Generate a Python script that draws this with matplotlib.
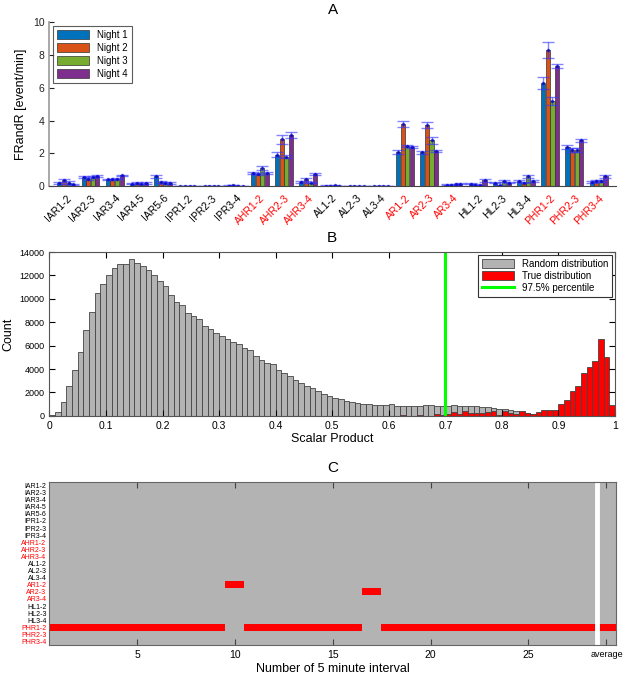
import numpy as np
import matplotlib
matplotlib.use('Agg')
import matplotlib.pyplot as plt
from matplotlib.colors import ListedColormap

plt.rcParams['font.family'] = ['Liberation Sans', 'DejaVu Sans']

# ---- panel A data ----
pairs = ['IAR1-2', 'IAR2-3', 'IAR3-4', 'IAR4-5', 'IAR5-6', 'IPR1-2', 'IPR2-3', 'IPR3-4',
         'AHR1-2', 'AHR2-3', 'AHR3-4', 'AL1-2', 'AL2-3', 'AL3-4', 'AR1-2', 'AR2-3', 'AR3-4',
         'HL1-2', 'HL2-3', 'HL3-4', 'PHR1-2', 'PHR2-3', 'PHR3-4']
red_pairs = ['AHR1-2', 'AHR2-3', 'AHR3-4', 'AR1-2', 'AR2-3', 'AR3-4', 'PHR1-2', 'PHR2-3', 'PHR3-4']

night1 = [0.20, 0.55, 0.40, 0.15, 0.60, 0.01, 0.01, 0.03, 0.80, 1.90, 0.25, 0.02, 0.00, 0.01,
          2.10, 2.05, 0.08, 0.15, 0.20, 0.30, 6.30, 2.40, 0.25]
night2 = [0.35, 0.45, 0.40, 0.20, 0.25, 0.00, 0.01, 0.05, 0.75, 2.85, 0.40, 0.01, 0.00, 0.00,
          3.80, 3.73, 0.05, 0.08, 0.05, 0.20, 8.30, 2.20, 0.30]
night3 = [0.20, 0.55, 0.45, 0.15, 0.20, 0.00, 0.00, 0.02, 1.10, 1.80, 0.20, 0.05, 0.00, 0.00,
          2.45, 2.78, 0.10, 0.05, 0.30, 0.60, 5.20, 2.20, 0.30]
night4 = [0.10, 0.60, 0.65, 0.20, 0.20, 0.00, 0.00, 0.01, 0.80, 3.10, 0.75, 0.00, 0.00, 0.00,
          2.40, 2.15, 0.15, 0.35, 0.20, 0.30, 7.30, 2.78, 0.60]
err1 = [0.05, 0.05, 0.05, 0.05, 0.10, 0.01, 0.01, 0.01, 0.08, 0.15, 0.05, 0.02, 0.01, 0.01,
        0.12, 0.10, 0.03, 0.04, 0.04, 0.04, 0.35, 0.12, 0.05]
err2 = [0.08, 0.10, 0.05, 0.05, 0.05, 0.01, 0.01, 0.01, 0.05, 0.28, 0.08, 0.02, 0.01, 0.01,
        0.20, 0.20, 0.03, 0.03, 0.02, 0.03, 0.50, 0.10, 0.06]
err3 = [0.08, 0.05, 0.05, 0.05, 0.05, 0.01, 0.01, 0.01, 0.12, 0.08, 0.04, 0.02, 0.01, 0.01,
        0.06, 0.20, 0.03, 0.02, 0.06, 0.10, 0.25, 0.10, 0.05]
err4 = [0.04, 0.05, 0.05, 0.05, 0.05, 0.01, 0.01, 0.01, 0.05, 0.18, 0.05, 0.02, 0.01, 0.01,
        0.05, 0.07, 0.03, 0.08, 0.04, 0.06, 0.12, 0.08, 0.08]
night_labels = ['Night 1', 'Night 2', 'Night 3', 'Night 4']
night_colors = ['#0072BD', '#D95319', '#77AC30', '#7E2F8E']

# ---- panel B data (bins of 0.01 from 0 to 1) ----
random_counts = [60, 300, 1200, 2550, 3950, 5450, 7300, 8900, 10500, 11300,
                 12000, 12650, 13000, 13000, 13400, 13100, 12800, 12500, 12000, 11550,
                 11100, 10350, 9750, 9500, 8750, 8500, 8250, 7700, 7400, 7100,
                 6800, 6550, 6300, 6100, 5800, 5600, 5100, 4750, 4550, 4400,
                 3900, 3700, 3400, 3100, 2850, 2550, 2350, 2100, 1870, 1700,
                 1500, 1400, 1280, 1160, 1080, 1020, 1000, 960, 940, 910,
                 1000, 880, 870, 860, 850, 850, 890, 890, 880, 870,
                 870, 900, 880, 880, 850, 800, 780, 750, 700, 620,
                 550, 480, 420, 340, 250, 180, 120, 80, 50, 30,
                 10, 8, 5, 3, 2, 1, 1, 0, 0, 0]
true_counts = [0] * 62 + [80, 0, 0, 80, 0, 0, 150, 100,
                          150, 300, 150, 430, 230, 230, 230, 370, 430, 90,
                          430, 230, 120, 430, 280, 170, 310, 510, 510, 510,
                          1050, 1360, 2100, 2560, 3640, 4200, 4700, 6600, 5050, 940]
percentile_975 = 0.7

# ---- panel C data ----
n_intervals = 28
sig_intervals = {
    'AR1-2': [10],
    'AR2-3': [17],
    'PHR1-2': [1, 2, 3, 4, 5, 6, 7, 8, 9, 11, 12, 13, 14, 15, 16,
               18, 19, 20, 21, 22, 23, 24, 25, 26, 27, 28],
}
sig_average = ['PHR1-2']

fig = plt.figure(figsize=(6.25, 6.74), dpi=100)

# ---------------- A ----------------
axA = fig.add_axes([0.079, 0.724, 0.907, 0.243])
x = np.arange(1, len(pairs) + 1)
w = 0.17
offsets = [-0.285, -0.095, 0.095, 0.285]
for vals, errs, lab, col, off in zip([night1, night2, night3, night4], [err1, err2, err3, err4],
                                     night_labels, night_colors, offsets):
    axA.bar(x + off, vals, w, color=col, edgecolor='#333333', linewidth=0.5, label=lab)
    axA.errorbar(x + off, vals, yerr=errs, fmt='.', color='#0000CC', markersize=3,
                 ecolor='#3333FF', elinewidth=1, capsize=4, alpha=0.6)
axA.set_xlim(0.3, 23.73)
axA.set_ylim(0, 10)
axA.set_yticks([0, 2, 4, 6, 8, 10])
axA.set_xticks(x)
axA.set_xticklabels(pairs, rotation=45, ha='right', rotation_mode='anchor', fontsize=7.5)
for t in axA.get_xticklabels():
    if t.get_text() in red_pairs:
        t.set_color('red')
axA.tick_params(axis='x', length=0, pad=5)
axA.tick_params(axis='y', direction='in', labelsize=7.5, colors='#222222')
axA.spines['top'].set_visible(False)
axA.spines['right'].set_visible(False)
axA.spines['left'].set_color('#999999')
axA.spines['left'].set_linewidth(1.2)
axA.spines['bottom'].set_color('#444444')
axA.set_ylabel('FRandR [event/min]', fontsize=9)
axA.set_title('A', fontsize=11, pad=6)
barsA, labsA = axA.get_legend_handles_labels()
legA = axA.legend(barsA[:4], labsA[:4], loc='upper left', fontsize=7, handlelength=3.3,
                  handleheight=1.0, fancybox=False, edgecolor='#333333', borderaxespad=0.4,
                  labelspacing=0.3)
legA.get_frame().set_linewidth(0.8)

# ---------------- B ----------------
axB = fig.add_axes([0.079, 0.383, 0.905, 0.243])
edges = np.linspace(0, 1, 101)[:-1]
hr = axB.bar(edges, random_counts, 0.01, align='edge', color='#B3B3B3', edgecolor='#444444',
             linewidth=0.6, label='Random distribution')
ht = axB.bar(edges, true_counts, 0.01, align='edge', color='#FF0000', edgecolor='#444444',
             linewidth=0.6, label='True distribution')
hp = axB.axvline(percentile_975, color='#00FF00', linewidth=2.2, label='97.5% percentile')
axB.set_xlim(0, 1)
axB.set_ylim(0, 14000)
axB.set_xticks(np.arange(0, 1.01, 0.1))
axB.set_xticklabels(['0', '0.1', '0.2', '0.3', '0.4', '0.5', '0.6', '0.7', '0.8', '0.9', '1'])
axB.set_yticks(np.arange(0, 14001, 2000))
axB.tick_params(axis='x', direction='in', top=True, labelsize=7.5, length=4)
axB.tick_params(axis='y', direction='in', right=True, labelsize=6.5, length=4)
for s in axB.spines.values():
    s.set_color('#555555')
axB.set_xlabel('Scalar Product', fontsize=9, labelpad=2)
axB.set_ylabel('Count', fontsize=9)
axB.set_title('B', fontsize=11, pad=7)
legB = axB.legend([hr, ht, hp], ['Random distribution', 'True distribution', '97.5% percentile'],
                  loc='upper right', fontsize=7, handlelength=3.3, handleheight=1.0,
                  fancybox=False, edgecolor='#333333', borderaxespad=0.3, labelspacing=0.2,
                  framealpha=1)
legB.get_frame().set_linewidth(0.8)

# ---------------- C ----------------
axC = fig.add_axes([0.079, 0.043, 0.907, 0.242])
grid = np.zeros((len(pairs), n_intervals + 1))
for name, cols in sig_intervals.items():
    for c in cols:
        grid[pairs.index(name), c - 1] = 1
for name in sig_average:
    grid[pairs.index(name), n_intervals] = 1
axC.imshow(grid, cmap=ListedColormap(['#B3B3B3', '#FF0000']), vmin=0, vmax=1,
           aspect='auto', interpolation='nearest',
           extent=(0.5, n_intervals + 1.5, len(pairs) + 0.5, 0.5))
axC.axvline(n_intervals + 0.5, color='white', linewidth=3.5)
axC.set_xlim(0.5, n_intervals + 1.5)
axC.set_xticks([5, 10, 15, 20, 25, n_intervals + 1])
axC.set_xticklabels(['5', '10', '15', '20', '25', 'average'])
for t in axC.get_xticklabels():
    t.set_fontsize(6.5 if t.get_text() == 'average' else 7.5)
axC.set_yticks(np.arange(1, len(pairs) + 1))
axC.set_yticklabels(pairs, fontsize=5.0)
for t in axC.get_yticklabels():
    if t.get_text() in red_pairs:
        t.set_color('red')
axC.tick_params(axis='y', length=0, pad=2)
axC.tick_params(axis='x', direction='in', top=True, length=4, color='#444444')
for s in axC.spines.values():
    s.set_color('#666666')
axC.set_xlabel('Number of 5 minute interval', fontsize=9, labelpad=2)
axC.set_title('C', fontsize=11, pad=7)

plt.savefig('out.png', dpi=100)
